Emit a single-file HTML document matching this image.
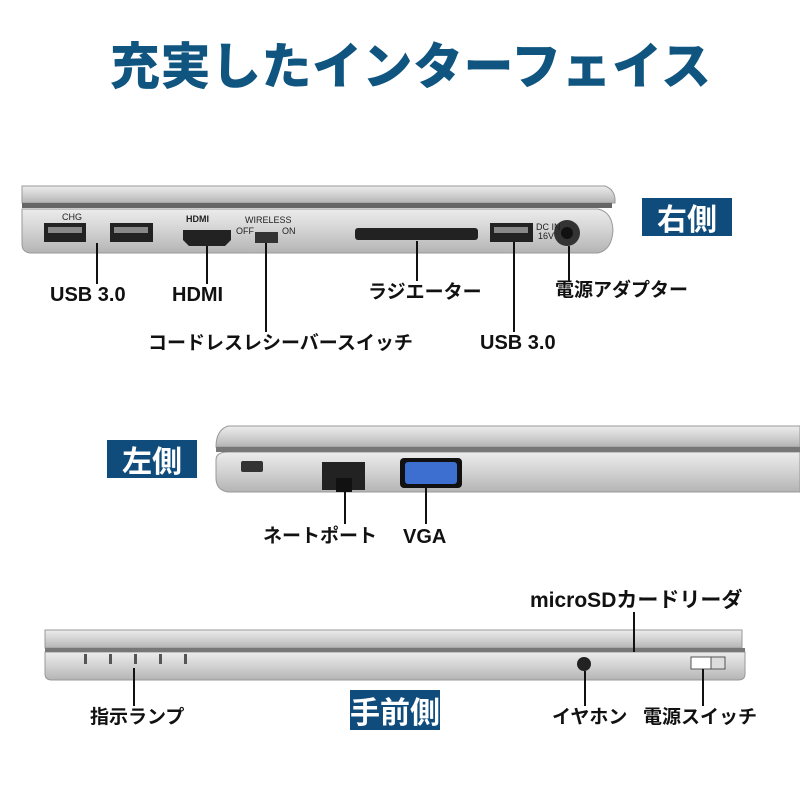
<!DOCTYPE html>
<html><head><meta charset="utf-8"><style>
body{margin:0;background:#fff;width:800px;height:800px;overflow:hidden;position:relative;font-family:"Liberation Sans","Noto Sans CJK JP",sans-serif}
.t{position:absolute;font-weight:bold;color:#111;white-space:nowrap;line-height:1}
.box{position:absolute;background:#0f4c7c;color:#fff;font-weight:bold;font-size:30px;text-align:center;line-height:38px;font-family:"Noto Sans CJK JP",sans-serif}
</style></head><body>
<div class="t" style="left:110px;top:38px;font-size:50px;color:#0f5580;letter-spacing:0.5px;font-family:'Noto Sans CJK JP',sans-serif;font-weight:900">充実したインターフェイス</div>
<svg width="800" height="800" style="position:absolute;left:0;top:0">
<defs>
<linearGradient id="g" x1="0" y1="0" x2="0" y2="1"><stop offset="0" stop-color="#ececec"/><stop offset="0.5" stop-color="#d2d2d2"/><stop offset="1" stop-color="#b4b4b4"/></linearGradient>
</defs>
<path d="M22 186 H605 Q616 190 615 203 H22 Z" fill="url(#g)" stroke="#999"/>
<path d="M22 209 H598 Q612 212 613 230 Q612 250 598 253 H30 Q22 252 22 244 Z" fill="url(#g)" stroke="#999"/>
<rect x="22" y="203" width="590" height="5" fill="#666"/>
<rect x="44" y="223" width="42" height="19" fill="#222"/><rect x="48" y="227" width="34" height="6" fill="#888"/>
<rect x="110" y="223" width="43" height="19" fill="#222"/><rect x="114" y="227" width="34" height="6" fill="#888"/>
<path d="M183 230 H231 V240 L225 246 H189 L183 240 Z" fill="#222"/>
<rect x="255" y="232" width="23" height="11" fill="#333"/>
<rect x="355" y="228" width="123" height="12" rx="3" fill="#222"/>
<rect x="490" y="223" width="43" height="19" fill="#222"/><rect x="494" y="227" width="34" height="6" fill="#888"/>
<circle cx="567" cy="233" r="13" fill="#333"/><circle cx="567" cy="233" r="6" fill="#111"/>
<g font-size="9" fill="#222" font-family="Liberation Sans"><text x="62" y="220">CHG</text><text x="186" y="222" font-weight="bold">HDMI</text><text x="245" y="223">WIRELESS</text><text x="236" y="234">OFF</text><text x="282" y="234">ON</text><text x="536" y="230">DC IN</text><text x="538" y="239">16V</text></g>
<path d="M228 426 H800 V447 H216 Q216 430 228 426 Z" fill="url(#g)" stroke="#999"/>
<path d="M228 452 H800 V492 H228 Q216 490 216 478 V460 Q216 452 228 452 Z" fill="url(#g)" stroke="#999"/>
<rect x="216" y="447" width="584" height="5" fill="#777"/>
<rect x="241" y="461" width="22" height="11" rx="2" fill="#333"/>
<rect x="322" y="462" width="43" height="28" fill="#222"/><rect x="336" y="478" width="16" height="14" fill="#111"/>
<rect x="400" y="458" width="62" height="30" rx="4" fill="#111"/><rect x="405" y="462" width="52" height="22" rx="3" fill="#3c6fd0"/>
<path d="M45 630 H742 V648 H45 Z" fill="url(#g)" stroke="#999"/>
<path d="M45 652 H745 V674 Q745 680 738 680 H52 Q45 680 45 674 Z" fill="url(#g)" stroke="#999"/>
<rect x="45" y="648" width="700" height="4" fill="#777"/>
<g fill="#555"><rect x="84" y="654" width="3" height="10"/><rect x="109" y="654" width="3" height="10"/><rect x="134" y="654" width="3" height="10"/><rect x="159" y="654" width="3" height="10"/><rect x="184" y="654" width="3" height="10"/></g>
<circle cx="584" cy="664" r="7" fill="#222"/>
<rect x="691" y="657" width="34" height="12" fill="#ddd" stroke="#555"/><rect x="691" y="657" width="20" height="12" fill="#fff" stroke="#555"/>
<g stroke="#111" stroke-width="2">
<line x1="97" y1="243" x2="97" y2="284"/><line x1="207" y1="246" x2="207" y2="284"/><line x1="266" y1="243" x2="266" y2="332"/><line x1="417" y1="241" x2="417" y2="281"/><line x1="514" y1="242" x2="514" y2="332"/><line x1="569" y1="246" x2="569" y2="282"/>
<line x1="345" y1="490" x2="345" y2="524"/><line x1="426" y1="488" x2="426" y2="524"/>
<line x1="134" y1="668" x2="134" y2="706"/><line x1="585" y1="671" x2="585" y2="706"/><line x1="703" y1="669" x2="703" y2="706"/><line x1="634" y1="612" x2="634" y2="652"/>
</g>
</svg>
<div class="box" style="left:642px;top:198px;width:90px;height:38px">右側</div>
<div class="box" style="left:107px;top:440px;width:90px;height:38px">左側</div>
<div class="box" style="left:350px;top:690px;width:90px;height:40px;line-height:40px">手前側</div>
<div class="t" style="left:50px;top:285px;font-size:20px">USB 3.0</div>
<div class="t" style="left:172px;top:285px;font-size:20px">HDMI</div>
<div class="t" style="left:368px;top:283px;font-size:19px">ラジエーター</div>
<div class="t" style="left:555px;top:281px;font-size:19px">電源アダプター</div>
<div class="t" style="left:148px;top:334px;font-size:19px">コードレスレシーバースイッチ</div>
<div class="t" style="left:480px;top:333px;font-size:20px">USB 3.0</div>
<div class="t" style="left:263px;top:527px;font-size:19px">ネートポート</div>
<div class="t" style="left:403px;top:527px;font-size:20px">VGA</div>
<div class="t" style="left:530px;top:590px;font-size:21px">microSDカードリーダ</div>
<div class="t" style="left:90px;top:708px;font-size:19px">指示ランプ</div>
<div class="t" style="left:552px;top:708px;font-size:19px">イヤホン</div>
<div class="t" style="left:643px;top:708px;font-size:19px">電源スイッチ</div>
</body></html>
